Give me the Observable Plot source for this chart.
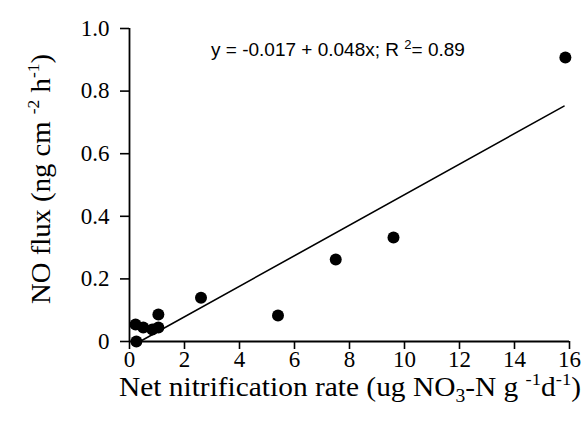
<!DOCTYPE html>
<html><head><meta charset="utf-8">
<script src="https://cdn.jsdelivr.net/npm/d3@7"></script>
<script src="https://cdn.jsdelivr.net/npm/@observablehq/plot@0.6"></script>
<style>body{margin:0;background:#fff}</style>
</head><body><div id="chart"></div>
<script>
// Data
const nitrification = [0.22, 0.25, 0.5, 0.83, 1.05, 1.05, 2.6, 5.4, 7.5, 9.6, 15.85];
const noFlux = [0.054, 0.0, 0.045, 0.038, 0.045, 0.086, 0.14, 0.083, 0.262, 0.332, 0.907];
const fitX = [0.38, 15.8];
const fitY = [0.0, 0.752];
const xTicks = [0, 2, 4, 6, 8, 10, 12, 14, 16];
const yTicks = [0, 0.2, 0.4, 0.6, 0.8, 1.0];
const yTickLabels = ["0", "0.2", "0.4", "0.6", "0.8", "1.0"];
const equation = "y = -0.017 + 0.048x; R";

const points = nitrification.map((x, i) => ({x, y: noFlux[i]}));
const fit = fitX.map((x, i) => ({x, y: fitY[i]}));

const serifFont = "Liberation Serif, Times New Roman, DejaVu Serif, serif";
const sansFont = "Liberation Sans, Arial, sans-serif";
const plot = Plot.plot({
  width: 584, height: 426,
  marginLeft: 129, marginRight: 15, marginTop: 28, marginBottom: 85,
  style: {fontFamily: serifFont, fontSize: "23px", color: "black", background: "white"},
  x: {domain: [0, 16]},
  y: {domain: [0, 1]},
  marks: [
    Plot.axisX({ticks: xTicks, tickSize: 8, tickPadding: 1, strokeWidth: 1.6, label: null, fontSize: 23}),
    Plot.axisY({ticks: yTicks, tickSize: 9, tickPadding: 11, strokeWidth: 1.6, label: null, fontSize: 23,
      tickFormat: d => yTickLabels[yTicks.indexOf(d)]}),
    Plot.ruleX([0], {y1: 0, y2: 1, strokeWidth: 1.8}),
    Plot.ruleY([0], {x1: 0, x2: 16, strokeWidth: 1.8}),
    Plot.line(fit, {x: "x", y: "y", stroke: "black", strokeWidth: 1.6}),
    Plot.dot(points, {x: "x", y: "y", r: 6, fill: "black", stroke: "none"})
  ]
});
document.getElementById("chart").appendChild(plot);

const svg = d3.select(plot);
// serif tick labels
svg.selectAll("text").style("font-family", serifFont).style("font-size", "23px");

// Equation
const eq = svg.append("text").attr("x", 211).attr("y", 56)
  .attr("text-anchor", "start")
  .style("font-family", sansFont).style("font-size", "19px").attr("fill", "black");
eq.append("tspan").text(equation + " ");
eq.append("tspan").style("font-size", "13px").attr("dy", -7).text("2");
eq.append("tspan").attr("dy", 7).text("= 0.89");

// X title
const xt = svg.append("text").attr("x", 350).attr("y", 396).attr("text-anchor", "middle")
  .attr("textLength", 462).attr("lengthAdjust", "spacingAndGlyphs")
  .style("font-family", serifFont).style("font-size", "27px").attr("fill", "black");
xt.append("tspan").text("Net nitrification rate (ug NO");
xt.append("tspan").style("font-size", "18px").attr("dy", 6).text("3");
xt.append("tspan").attr("dy", -6).text("-N g ");
xt.append("tspan").style("font-size", "17px").attr("dy", -11).text("-1");
xt.append("tspan").attr("dy", 11).text("d");
xt.append("tspan").style("font-size", "17px").attr("dy", -11).text("-1");
xt.append("tspan").attr("dy", 11).text(")");

// Y title
const yt = svg.append("text").attr("transform", "translate(50,179) rotate(-90)").attr("text-anchor", "middle")
  .attr("textLength", 250).attr("lengthAdjust", "spacingAndGlyphs")
  .style("font-family", serifFont).style("font-size", "28px").attr("fill", "black");
yt.append("tspan").text("NO flux (ng cm ");
yt.append("tspan").style("font-size", "17px").attr("dy", -11).text("-2");
yt.append("tspan").attr("dy", 11).text(" h");
yt.append("tspan").style("font-size", "17px").attr("dy", -11).text("-1");
yt.append("tspan").attr("dy", 11).text(")");
</script>
</body></html>
